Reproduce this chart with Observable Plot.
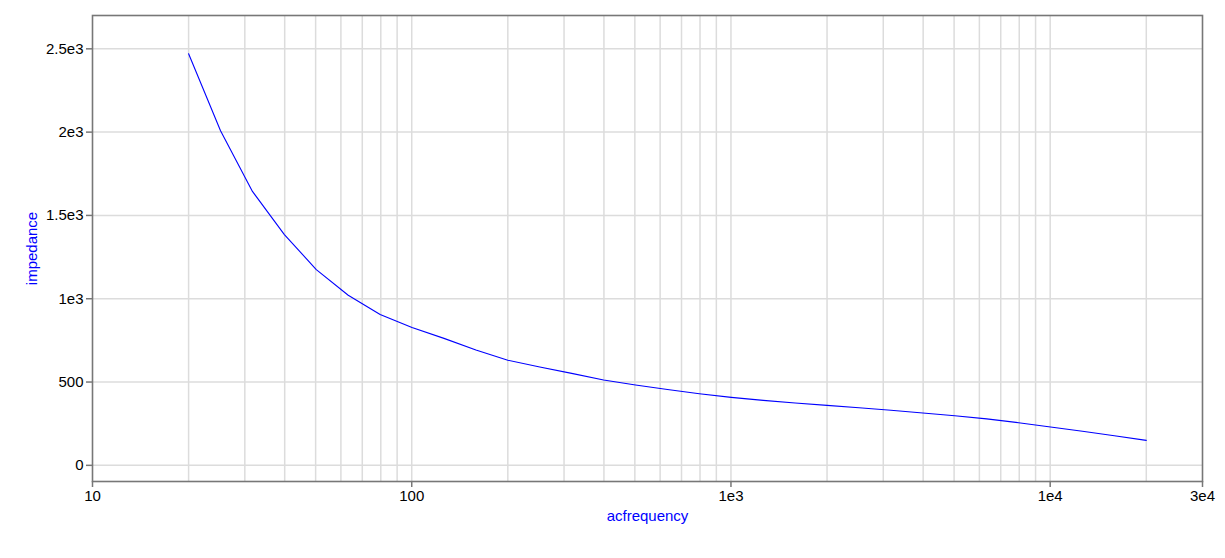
<!DOCTYPE html>
<html>
<head>
<meta charset="utf-8">
<script src="https://cdn.jsdelivr.net/npm/d3@7"></script>
<script src="https://cdn.jsdelivr.net/npm/@observablehq/plot@0.6"></script>
<style>
  html, body { margin: 0; padding: 0; background: #fff; }
  #chart svg { display: block; }
</style>
</head>
<body>
<div id="chart"></div>
<script>
// Frequencies (Hz), 10 points per decade from 20 Hz to 20 kHz
const acfrequency = [20, 25.18, 31.70, 39.91, 50.24, 63.25, 79.62, 100.2, 126.2, 158.9,
  200, 251.8, 317.0, 399.1, 502.4, 632.5, 796.2, 1002, 1262, 1589,
  2000, 2518, 3170, 3991, 5024, 6325, 7962, 10024, 12619, 15887, 20000];
// Impedance values
const impedance = [2470, 2008, 1644, 1385, 1175, 1021, 905, 827, 762, 692,
  631, 590, 552, 512, 482, 455, 430, 408, 390, 374,
  360, 346, 331, 314, 298, 279, 256, 230, 205, 178, 150];

const xTicks = [10, 100, 1000, 10000, 30000];
const yTicks = [0, 500, 1000, 1500, 2000, 2500];
const xGrid = [20,30,40,50,60,70,80,90,100,200,300,400,500,600,700,800,900,1000,
  2000,3000,4000,5000,6000,7000,8000,9000,10000,20000];
const xLabel = "acfrequency";
const yLabel = "impedance";

const data = acfrequency.map((f, i) => ({f, z: impedance[i]}));

function fmt(v) {
  if (Math.abs(v) >= 1000) {
    const e = Math.floor(Math.log10(Math.abs(v)) + 1e-9);
    const m = +(v / Math.pow(10, e)).toFixed(3);
    return `${m}e${e}`;
  }
  return String(v);
}

const axisColor = "#777";
const gridColor = "#dcdcdc";

const chart = Plot.plot({
  width: 1225,
  height: 558,
  marginLeft: 92,
  marginRight: 23,
  marginTop: 15,
  marginBottom: 77,
  style: {fontFamily: "'Liberation Sans', Arial, sans-serif", fontSize: "15px", color: "#000", background: "#fff"},
  x: {type: "log", domain: [10, 30000]},
  y: {domain: [-97, 2700]},
  marks: [
    Plot.ruleX(xGrid, {stroke: gridColor, strokeWidth: 1.5}),
    Plot.ruleY(yTicks, {stroke: gridColor, strokeWidth: 1.5}),
    Plot.line(data, {x: "f", y: "z", stroke: "#0000ff", strokeWidth: 1.1}),
    Plot.frame({stroke: axisColor, strokeWidth: 1.6}),
    Plot.axisX({ticks: xTicks, tickFormat: fmt, tickSize: 6, tickPadding: 3, label: null, stroke: axisColor, strokeWidth: 1.5, fill: "#000"}),
    Plot.axisY({ticks: yTicks, tickFormat: fmt, tickSize: 6, tickPadding: 3, label: null, stroke: axisColor, strokeWidth: 1.5, fill: "#000"}),
    Plot.text([xLabel], {frameAnchor: "bottom", dy: 35, textAnchor: "middle", lineAnchor: "middle", fill: "#0000ff", fontSize: 15}),
    Plot.text([yLabel], {frameAnchor: "left", dx: -60, rotate: -90, textAnchor: "middle", lineAnchor: "middle", fill: "#0000ff", fontSize: 15})
  ]
});
document.getElementById("chart").appendChild(chart);
</script>
</body>
</html>
